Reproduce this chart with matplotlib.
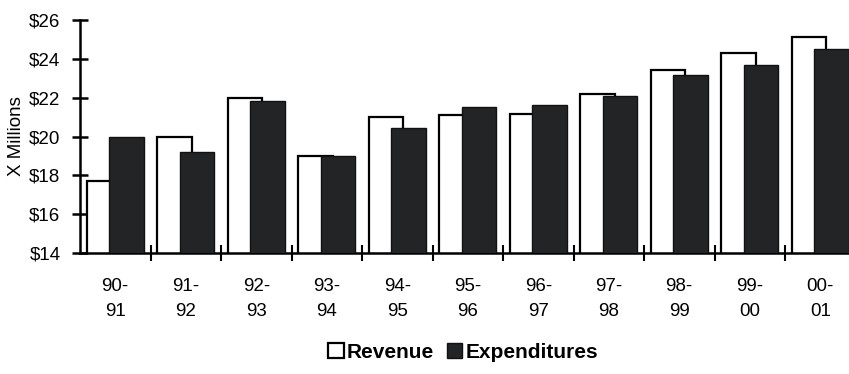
import numpy as np
import matplotlib
matplotlib.use('Agg')
import matplotlib.pyplot as plt
from matplotlib.patches import Patch

plt.rcParams['font.family'] = ['Liberation Sans', 'DejaVu Sans']

# fiscal years and amounts in $ millions
years = ['90-\n91', '91-\n92', '92-\n93', '93-\n94', '94-\n95', '95-\n96',
         '96-\n97', '97-\n98', '98-\n99', '99-\n00', '00-\n01']
revenue = [17.7, 19.95, 22.0, 19.0, 21.0, 21.1, 21.15, 22.2, 23.4, 24.3, 25.15]
expenditures = [20.0, 19.2, 21.85, 19.0, 20.45, 21.5, 21.6, 22.1, 23.15, 23.7, 24.5]

W, H = 849, 374
fig = plt.figure(figsize=(W / 100, H / 100), dpi=100)
ax = fig.add_axes([80 / W, (H - 253) / H, 775.5 / W, 233 / H])

x = np.arange(len(years))
bw = 0.49
off = 0.157
ax.bar(x - off, revenue, bw, color='white', edgecolor='black',
       linewidth=1.6, zorder=2)
ax.bar(x + off, expenditures, bw, color='#222426', edgecolor='#111111',
       linewidth=1.0, zorder=3)

ax.set_ylim(14, 26)
ax.set_xlim(-0.5, len(years) - 0.5)
ax.set_yticks(np.arange(14, 27, 2))
ax.set_yticklabels([f'${v}' for v in range(14, 27, 2)])

# tick marks between categories, labels at category centres
ax.set_xticks(np.arange(0.5, len(years) - 0.5, 1))
ax.set_xticklabels([])
ax.set_xticks(x, minor=True)
ax.set_xticklabels(years, minor=True, linespacing=1.6)
ax.tick_params(axis='x', which='major', direction='inout', length=12, width=1.5)
ax.tick_params(axis='x', which='minor', length=0, pad=18, labelsize=13.5)
ax.tick_params(axis='y', direction='inout', length=12, width=1.8, pad=8,
               labelsize=13.5)

for side in ['top', 'right']:
    ax.spines[side].set_visible(False)
for side in ['left', 'bottom']:
    ax.spines[side].set_linewidth(1.8)

ax.set_ylabel('X Millions', fontsize=13.5, labelpad=3)

handles = [Patch(facecolor='white', edgecolor='black', linewidth=1.6),
           Patch(facecolor='#222426', edgecolor='#111111')]
fig.legend(handles, ['Revenue', 'Expenditures'], loc='center',
           bbox_to_anchor=(463 / W, 1 - 352 / H), ncol=2, frameon=False,
           prop={'weight': 'bold', 'size': 15}, handlelength=0.75,
           handleheight=0.75, handletextpad=0.15, columnspacing=0.6)

fig.savefig('out.png', dpi=100)
